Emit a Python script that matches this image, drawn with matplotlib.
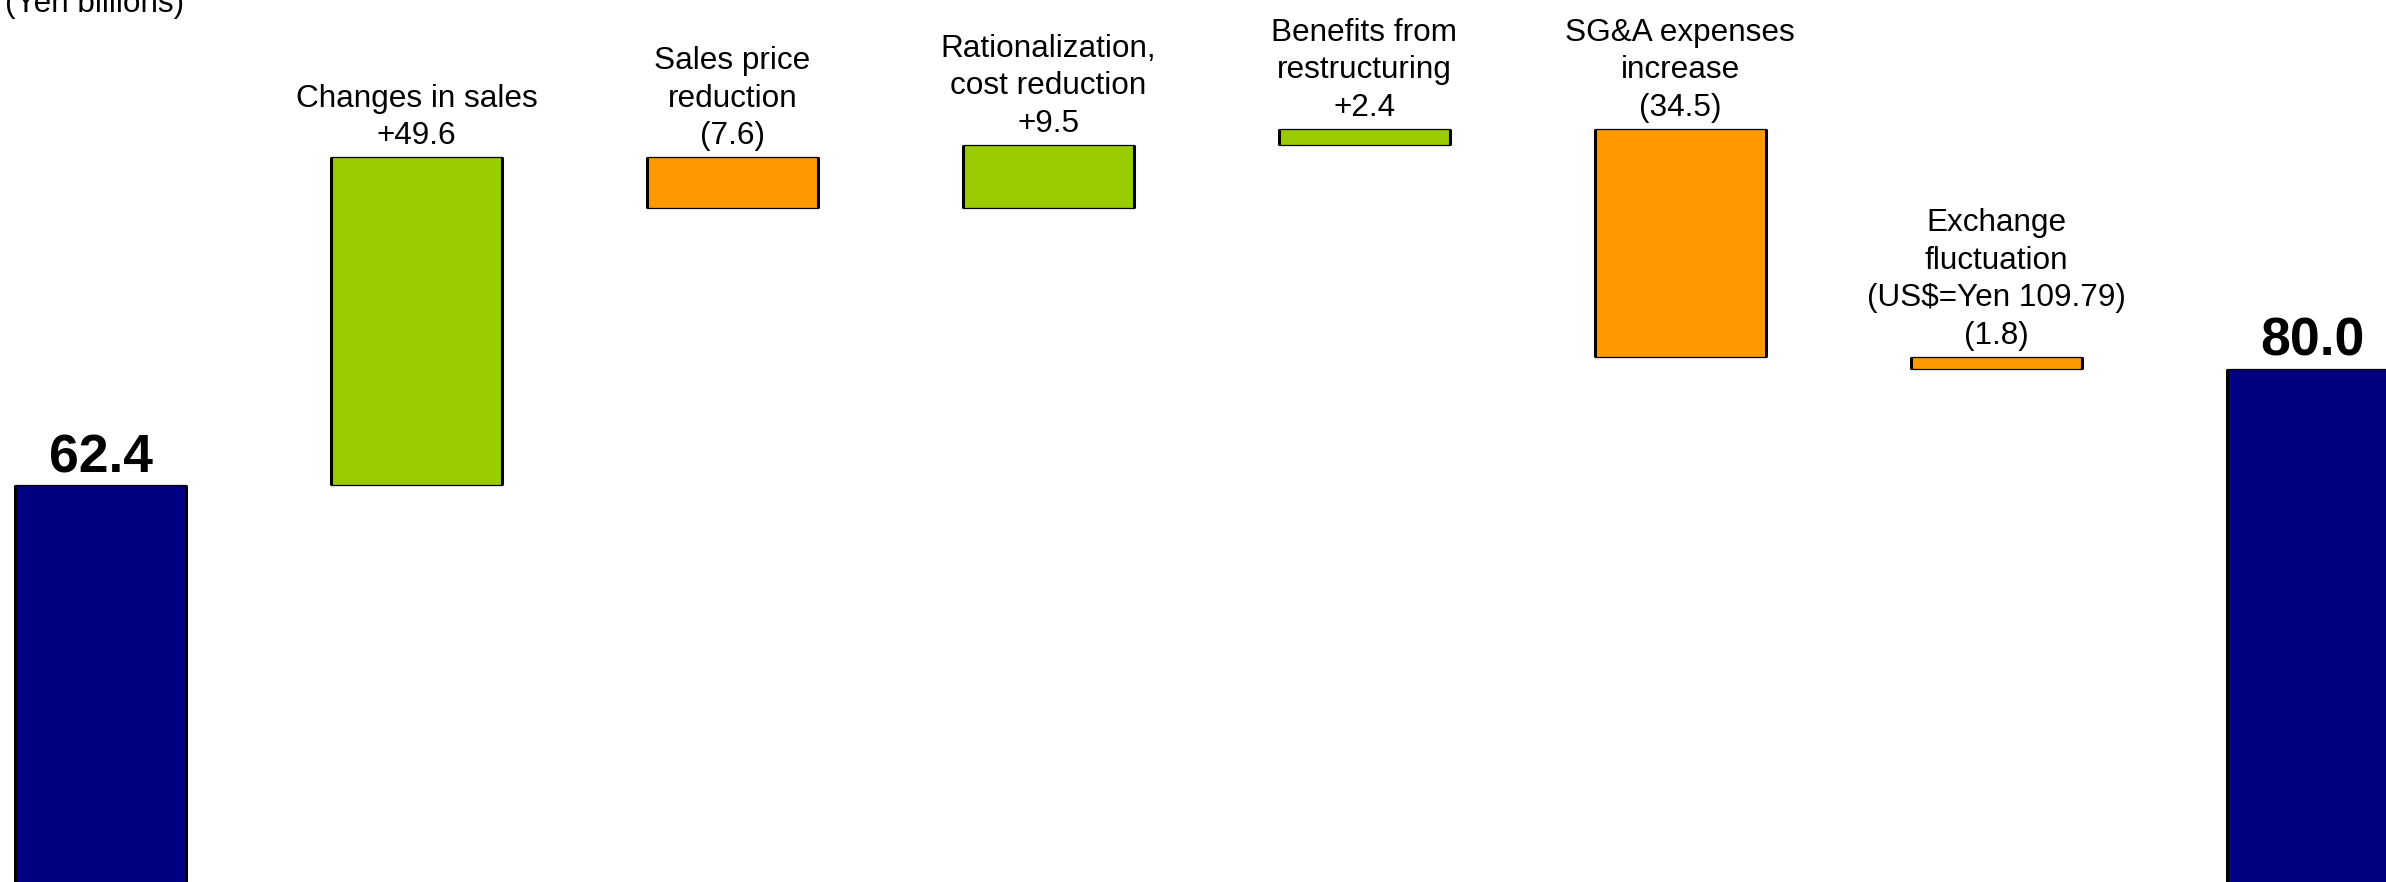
import matplotlib.pyplot as plt
import numpy as np

# Operating income change analysis (Yen billions)
start_value = 62.4
end_value = 80.0
changes = [49.6, -7.6, 9.5, 2.4, -34.5, -1.8]
change_labels = ["Changes in sales", "Sales price\nreduction",
                 "Rationalization,\ncost reduction", "Benefits from\nrestructuring",
                 "SG&A expenses\nincrease", "Exchange\nfluctuation\n(US\\$=Yen 109.79)"]

navy = "#000080"
green = "#99CC00"
orange = "#FF9900"

plt.rcParams['font.family'] = ['Liberation Sans', 'DejaVu Sans']

fig = plt.figure(figsize=(23.86, 8.82), dpi=100)
ax = fig.add_axes([0, 0, 1, 1])

# waterfall bottoms / heights
running = start_value + np.concatenate([[0], np.cumsum(changes)[:-1]])
bottoms = [0] + [r + min(c, 0) for r, c in zip(running, changes)] + [0]
heights = [start_value] + [abs(c) for c in changes] + [end_value]
colors = [navy] + [green if c > 0 else orange for c in changes] + [navy]
x = np.arange(len(heights))
w = 0.541

ax.bar(x, heights, bottom=bottoms, width=w, color=colors,
       edgecolor='black', linewidth=0.9)
tops = np.array(bottoms) + np.array(heights)
ax.vlines(x - w / 2, bottoms, tops, color='black', lw=2.2)
ax.vlines(x + w / 2, bottoms, tops, color='black', lw=2.2)

# labels over the change bars
for i, (c, lab) in enumerate(zip(changes, change_labels)):
    val = "+%.1f" % c if c > 0 else "(%.1f)" % abs(c)
    ax.annotate(lab + "\n" + val, (x[i + 1], tops[i + 1]), xytext=(0, 6),
                textcoords='offset pixels', ha='center', va='bottom',
                fontsize=22.7, linespacing=1.33)

# totals
for i, v in [(0, start_value), (len(x) - 1, end_value)]:
    ax.annotate("%.1f" % v, (x[i], tops[i]), xytext=(0, 2),
                textcoords='offset pixels', ha='center', va='bottom',
                fontsize=38.5, fontweight='bold')

fig.text(5 / 2386, 1 - 12 / 882, "(Yen billions)", ha='left', va='baseline',
         fontsize=22.7)

ax.set_xlim(-0.319, 7.234)
ax.set_ylim(2.4, 135.8)
ax.axis('off')

fig.savefig("out.png", dpi=100)
